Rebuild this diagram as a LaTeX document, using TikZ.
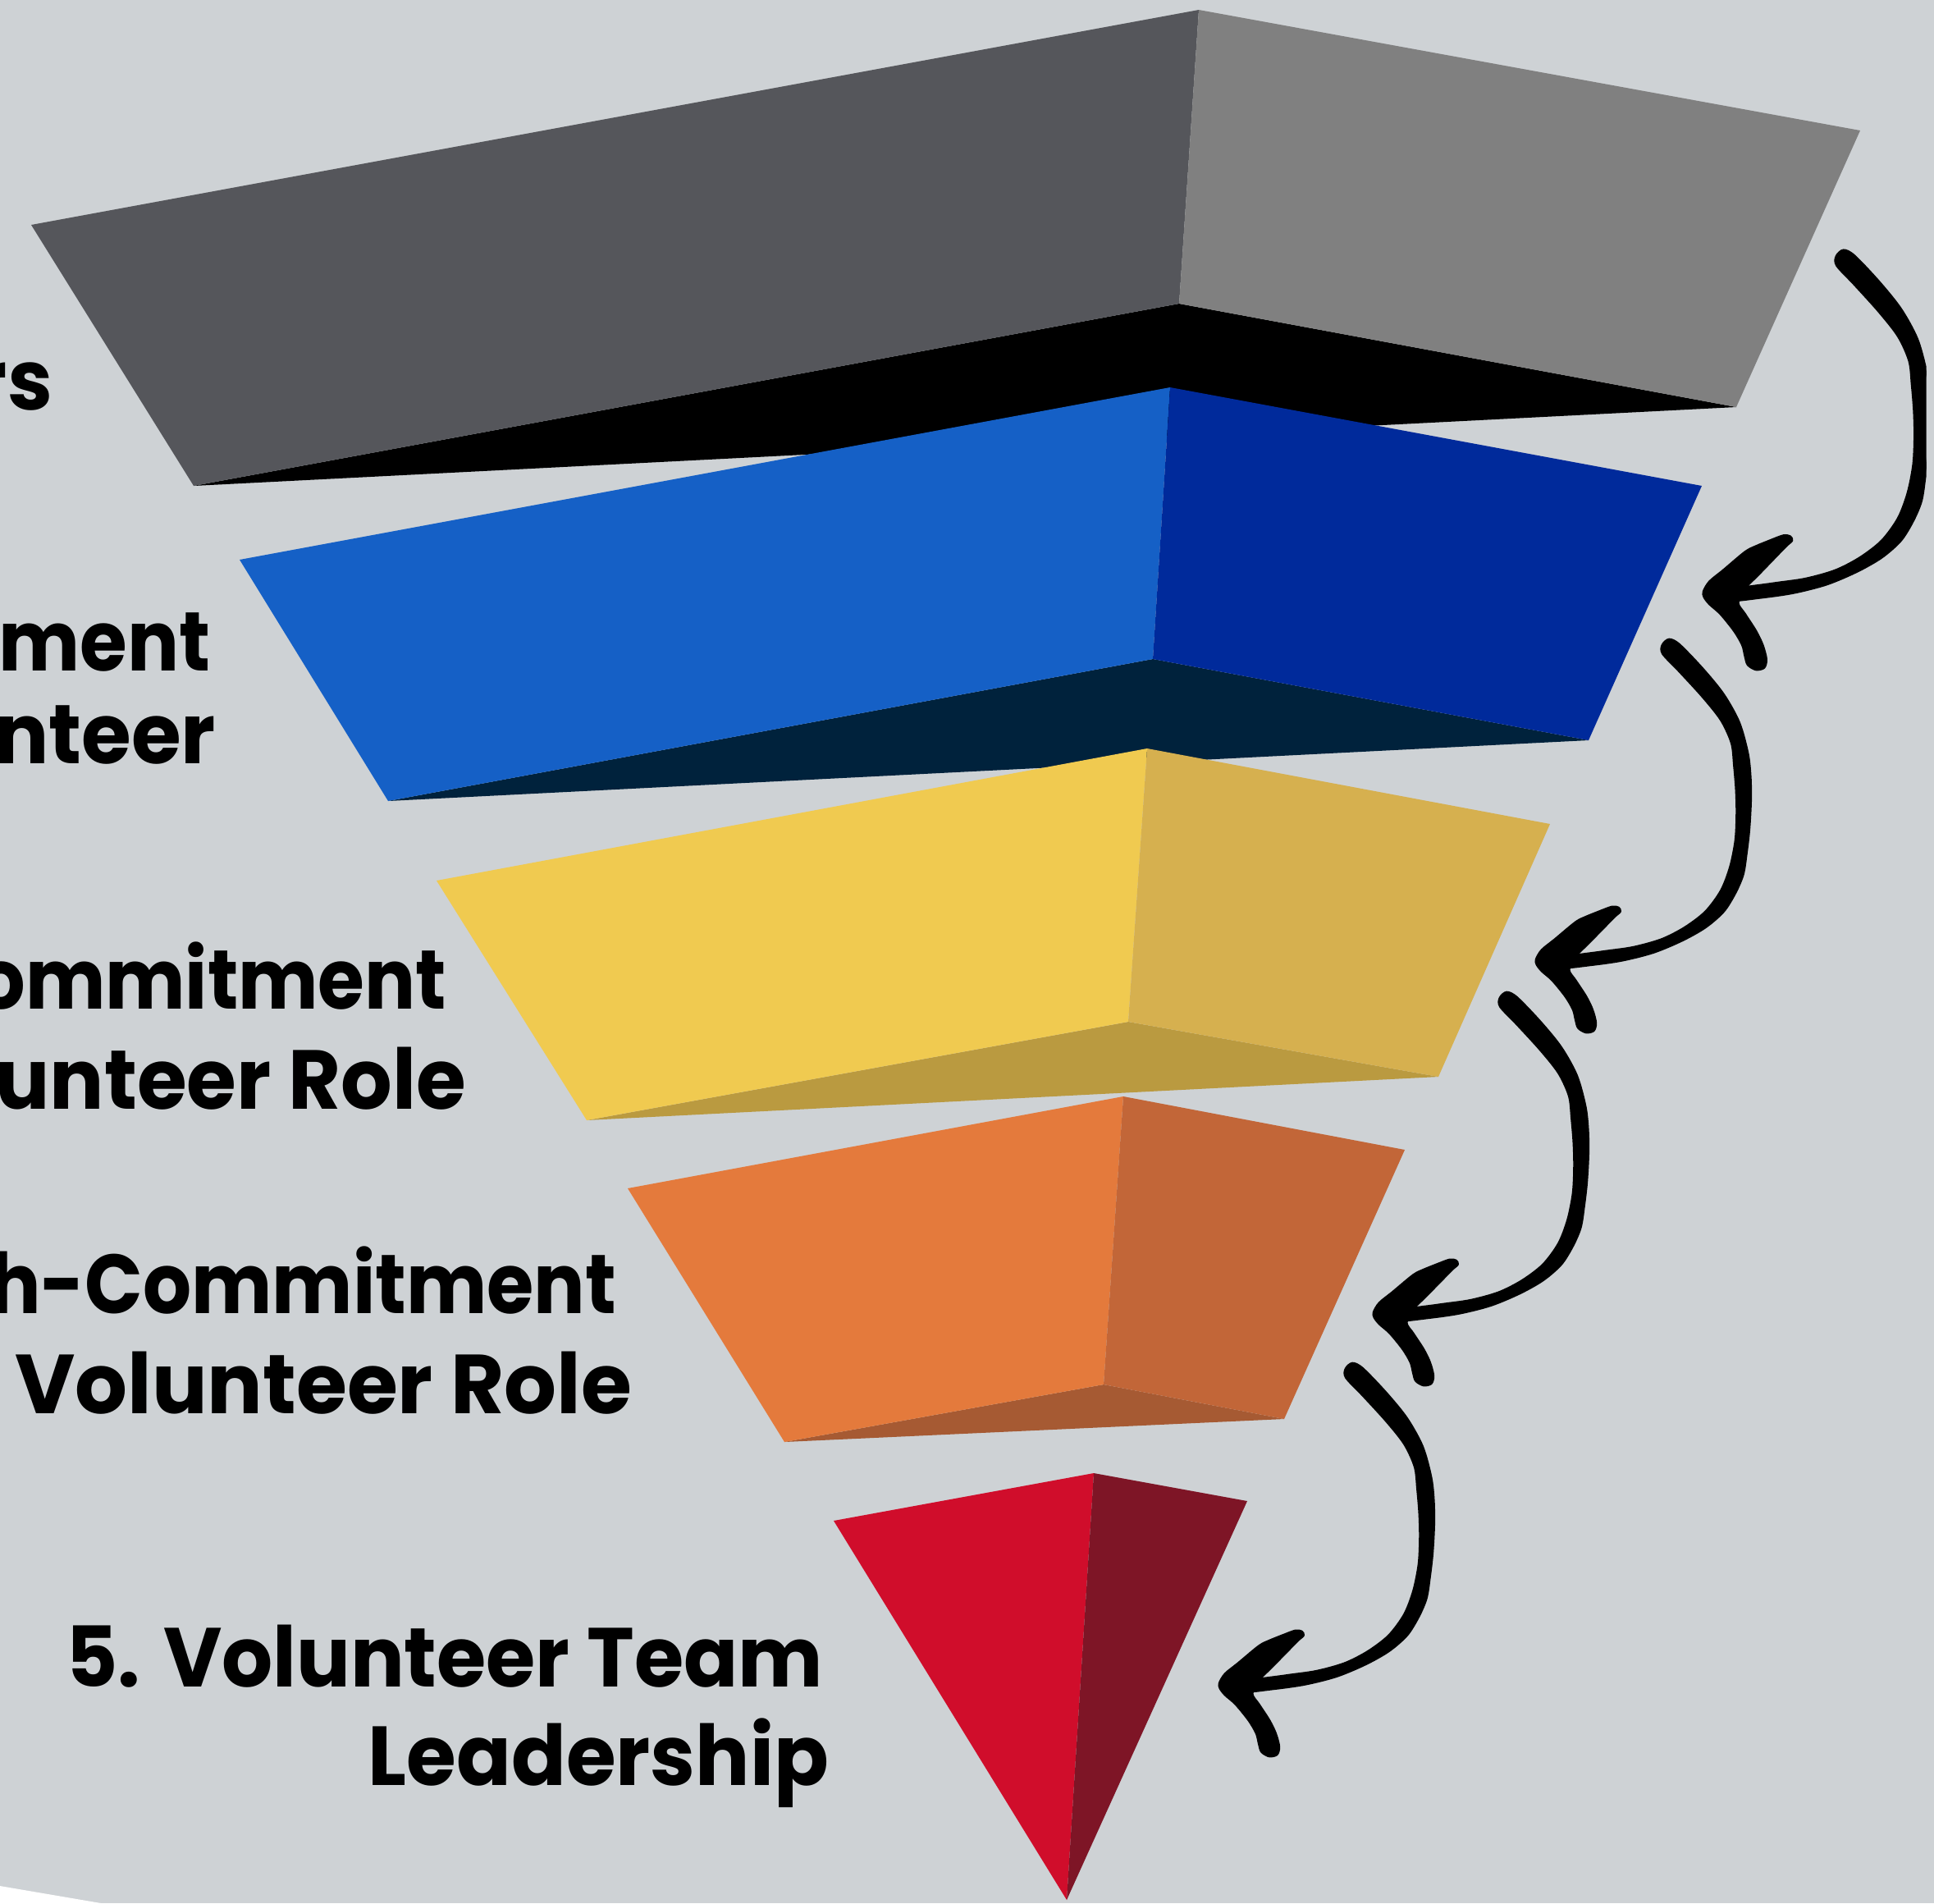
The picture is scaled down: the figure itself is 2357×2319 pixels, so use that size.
\documentclass[tikz,border=0pt]{standalone}
\usepackage{fontspec}
\setmainfont{Poppins}[FakeStretch=0.965]
\definecolor{bg}{RGB}{206,210,213}
\definecolor{gA}{RGB}{85,86,91}
\definecolor{gB}{RGB}{128,128,128}
\definecolor{gC}{RGB}{0,0,0}
\definecolor{bA}{RGB}{21,96,198}
\definecolor{bB}{RGB}{0,42,155}
\definecolor{bC}{RGB}{0,34,60}
\definecolor{yA}{RGB}{240,202,80}
\definecolor{yB}{RGB}{214,176,79}
\definecolor{yC}{RGB}{186,154,64}
\definecolor{oA}{RGB}{228,122,60}
\definecolor{oB}{RGB}{194,102,56}
\definecolor{oC}{RGB}{166,90,51}
\definecolor{rA}{RGB}{208,13,43}
\definecolor{rB}{RGB}{126,21,38}
% hand-drawn arrow, coordinates relative to its tip
\newcommand{\swoosh}{%
  \filldraw[line width=2.5pt, line join=round] plot[smooth cycle, tension=0.5] coordinates {
    (169.7,-404) (183,-397.4) (213,-366.8) (239.7,-334.6) (259.7,-299.1)
    (270.7,-260.4) (274,-231.3) (274.5,-201.3) (272.5,-164.7)
    (269,-134.7) (264.7,-108) (254.7,-84.7) (239.7,-61.3) (216.3,-41.3)
    (186.3,-24.7) (149.7,-9.7) (109.7,0.3) (69.7,6) (25,10)
    (25,-2) (83,-10.7) (123,-16.3) (159.7,-26.3) (189.7,-41.3)
    (216.3,-61.3) (236.3,-88) (248,-118) (254.7,-151.3) (256.3,-184.7)
    (255.5,-215) (253,-245) (249.7,-273) (236.3,-302) (213,-331)
    (183,-363.2) (161.3,-385.8) (161,-397)};
  \filldraw[line width=2.5pt, line join=round] plot[smooth cycle, tension=0.5] coordinates {
    (-1,-1.3) (6.3,-13) (23,-26.3) (49.7,-48) (63,-54.7) (79.7,-61.3)
    (96.3,-67.3) (104.7,-66.3) (107,-61.3) (99.7,-54.7) (83,-38) (66.3,-21.3)
    (49.7,-4.7) (41.3,12) (49.7,25.3) (63,45.3) (71.3,62) (75.7,78.7)
    (73,88.7) (63,91) (53,85.3) (49.7,75.3) (46.3,62) (36.3,45.3)
    (19.7,25.3) (6.3,13.7) (-0.3,5.3)};
}
\tikzset{lbl/.style={inner sep=0pt, outer sep=0pt, text=black, font=\bfseries\fontsize{102}{122}\selectfont, anchor=base east}}
\begin{document}
\begin{tikzpicture}[x=1pt,y=-1pt]
\useasboundingbox (0,0) rectangle (2357,2319);
\fill[bg] (0,0) rectangle (2357,2319);
\fill[white] (0,2298) -- (123,2319) -- (0,2319) -- cycle;
% tier 1
\fill[gC] (236,592) -- (1437,370) -- (2116,496) -- cycle;
\fill[gA] (38,274) -- (1461,12) -- (1437,370) -- (236,592) -- cycle;
\fill[gB] (1461,12) -- (2267,159) -- (2116,496) -- (1437,370) -- cycle;
% tier 2
\fill[bC] (473,976) -- (1405,803) -- (1936,902) -- cycle;
\fill[bA] (292,682) -- (1426,472) -- (1405,803) -- (473,976) -- cycle;
\fill[bB] (1426,472) -- (2074,592) -- (1936,902) -- (1405,803) -- cycle;
% tier 3
\fill[yC] (715,1365) -- (1375,1245) -- (1753,1312) -- cycle;
\fill[yA] (532,1073) -- (1398,912) -- (1375,1245) -- (715,1365) -- cycle;
\fill[yB] (1398,912) -- (1889,1004) -- (1753,1312) -- (1375,1245) -- cycle;
% tier 4
\fill[oC] (956,1757) -- (1345,1687) -- (1565,1729) -- cycle;
\fill[oA] (765,1448) -- (1369,1336) -- (1345,1687) -- (956,1757) -- cycle;
\fill[oB] (1369,1336) -- (1712,1401) -- (1565,1729) -- (1345,1687) -- cycle;
% tier 5
\fill[rA] (1016,1853) -- (1333,1795) -- (1300,2315) -- cycle;
\fill[rB] (1333,1795) -- (1520,1829) -- (1300,2315) -- cycle;
% arrows
\begin{scope}
\clip (0,0) rectangle (2347.5,2319);
\begin{scope}[shift={(2077,722)}, yscale=1.033]\swoosh\end{scope}
\end{scope}
\begin{scope}[shift={(1873,1170)}, xscale=0.95, yscale=0.968]\swoosh\end{scope}
\begin{scope}[shift={(1675,1600)}, xscale=0.95, yscale=0.968]\swoosh\end{scope}
\begin{scope}[shift={(1487,2052)}, xscale=0.95, yscale=0.968]\swoosh\end{scope}
% labels
\node[lbl] (l1) at (64,499) {rs};
\node[lbl, xscale=0.95] (l2a) at (256,817) {ment};
\node[lbl] (l2b) at (263,930) {nteer};
\node[lbl, xscale=0.935] (l3a) at (544,1229) {ommitment};
\node[lbl] (l3b) at (568,1351) {unteer Role};
\node[lbl, xscale=0.943] (l4a) at (751,1600) {h-Commitment};
\node[lbl, xscale=1.02] (l4b) at (770,1722) {Volunteer Role};
\node[lbl, xscale=0.992] (l5a) at (1003,2055) {5. Volunteer Team};
\node[lbl] (l5b) at (1010,2175) {Leadership};
\end{tikzpicture}
\end{document}
